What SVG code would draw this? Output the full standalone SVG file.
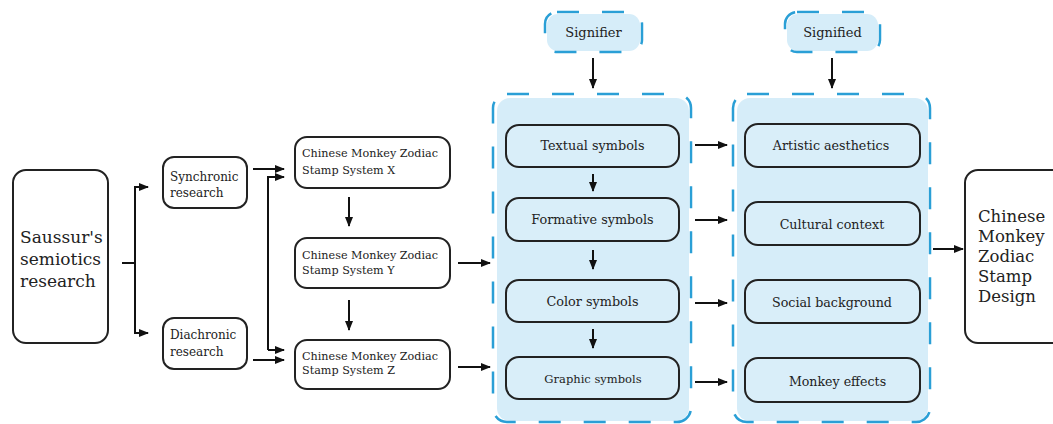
<svg xmlns="http://www.w3.org/2000/svg" width="1053" height="424" viewBox="0 0 1053 424">
<defs>
<marker id="ah" viewBox="0 0 10 10" refX="9" refY="5" markerWidth="10" markerHeight="10" markerUnits="userSpaceOnUse" orient="auto">
<path d="M0,1 L10,5 L0,9 Z" fill="#111"/>
</marker>
<style>
.n{fill:#fff;stroke:#222;stroke-width:2}
.ni{fill:#d9eef9;stroke:#222;stroke-width:2}
.f{fill:#d6edf9;stroke:none}
.c{fill:none;stroke:#2a9fd6;stroke-width:2.5;stroke-dasharray:22 23}
.t{font-family:"DejaVu Serif","Liberation Serif",serif;fill:#222}
.e{fill:none;stroke:#111;stroke-width:2}
.ea{fill:none;stroke:#111;stroke-width:2;marker-end:url(#ah)}
</style>
</defs>
<rect width="1053" height="424" fill="#fff"/>

<g id="saussur">
<rect class="n" x="13" y="170" width="95" height="173" rx="13"/>
<text class="t" font-size="17"><tspan x="20" y="243">Saussur's</tspan><tspan x="20" y="265">semiotics</tspan><tspan x="20" y="287">research</tspan></text>
</g>
<g id="synchronic">
<rect class="n" x="163" y="157" width="84" height="51" rx="11"/>
<text class="t" font-size="12"><tspan x="170" y="181">Synchronic</tspan><tspan x="170" y="197">research</tspan></text>
</g>
<g id="diachronic">
<rect class="n" x="163" y="318" width="84" height="51" rx="11"/>
<text class="t" font-size="12"><tspan x="170" y="339">Diachronic</tspan><tspan x="170" y="356">research</tspan></text>
</g>
<g id="systemX">
<rect class="n" x="295" y="137" width="155" height="51" rx="12"/>
<text class="t" font-size="11.2"><tspan x="302" y="157">Chinese Monkey Zodiac</tspan><tspan x="302" y="174">Stamp System X</tspan></text>
</g>
<g id="systemY">
<rect class="n" x="295" y="238" width="155" height="50" rx="12"/>
<text class="t" font-size="11.2"><tspan x="302" y="259">Chinese Monkey Zodiac</tspan><tspan x="302" y="274">Stamp System Y</tspan></text>
</g>
<g id="systemZ">
<rect class="n" x="295" y="340" width="155" height="49" rx="12"/>
<text class="t" font-size="11.2"><tspan x="302" y="360">Chinese Monkey Zodiac</tspan><tspan x="302" y="374">Stamp System Z</tspan></text>
</g>

<g id="signifier">
<rect class="f" x="547" y="14" width="93" height="37" rx="11"/>
<rect class="c" x="545" y="12" width="97" height="40" rx="12"/>
<text class="t" font-size="13" x="593.5" y="37" text-anchor="middle">Signifier</text>
</g>
<g id="signified">
<rect class="f" x="787" y="14" width="91" height="37" rx="11"/>
<rect class="c" x="785" y="12" width="95" height="40" rx="12"/>
<text class="t" font-size="13" x="832.5" y="37" text-anchor="middle">Signified</text>
</g>

<g id="signifierGroup">
<rect class="f" x="497" y="98" width="192" height="323" rx="13"/>
<rect class="c" x="493" y="94" width="198" height="328" rx="14"/>
</g>
<g id="signifiedGroup">
<rect class="f" x="737" y="98" width="191" height="323" rx="13"/>
<rect class="c" x="733" y="94" width="197" height="328" rx="14"/>
</g>

<g id="textual">
<rect class="ni" x="506" y="125" width="173" height="42" rx="13"/>
<text class="t" font-size="12.8" x="592.5" y="150" text-anchor="middle">Textual symbols</text>
</g>
<g id="formative">
<rect class="ni" x="506" y="198" width="173" height="43" rx="13"/>
<text class="t" font-size="12.8" x="592.5" y="224" text-anchor="middle">Formative symbols</text>
</g>
<g id="color">
<rect class="ni" x="506" y="280" width="173" height="42" rx="13"/>
<text class="t" font-size="12.8" x="592.5" y="306" text-anchor="middle">Color symbols</text>
</g>
<g id="graphic">
<rect class="ni" x="506" y="357" width="173" height="42" rx="13"/>
<text class="t" font-size="11.5" x="593" y="383" text-anchor="middle">Graphic symbols</text>
</g>

<g id="artistic">
<rect class="ni" x="745" y="124" width="175" height="43" rx="13"/>
<text class="t" font-size="12.7" x="831" y="150" text-anchor="middle">Artistic aesthetics</text>
</g>
<g id="cultural">
<rect class="ni" x="745" y="202" width="175" height="43" rx="13"/>
<text class="t" font-size="12.7" x="832" y="229" text-anchor="middle">Cultural context</text>
</g>
<g id="social">
<rect class="ni" x="745" y="280" width="175" height="43" rx="13"/>
<text class="t" font-size="12.7" x="832" y="307" text-anchor="middle">Social background</text>
</g>
<g id="monkey">
<rect class="ni" x="745" y="358" width="175" height="44" rx="13"/>
<text class="t" font-size="12.6" x="837.5" y="386" text-anchor="middle">Monkey effects</text>
</g>

<g id="design">
<rect class="n" x="965" y="170" width="100" height="173" rx="13"/>
<text class="t" font-size="16.5"><tspan x="978" y="222">Chinese</tspan><tspan x="978" y="242">Monkey</tspan><tspan x="978" y="262">Zodiac</tspan><tspan x="978" y="282">Stamp</tspan><tspan x="978" y="302">Design</tspan></text>
</g>

<g id="connectors">
<path class="e" d="M122,263 H135"/>
<path class="ea" d="M135,263 V187 H148"/>
<path class="ea" d="M135,263 V333 H148"/>
<path class="ea" d="M253,169 H284"/>
<path class="ea" d="M253,360 H284"/>
<path class="ea" d="M268,350 V177 H284"/>
<path class="ea" d="M268,350 H284"/>
<path class="ea" d="M349,197 V226"/>
<path class="ea" d="M349,300 V330"/>
<path class="ea" d="M458,263 H490"/>
<path class="ea" d="M458,367 H490"/>
<path class="ea" d="M593,58 V88"/>
<path class="ea" d="M832,58 V88"/>
<path class="ea" d="M593,174 V191"/>
<path class="ea" d="M593,250 V269"/>
<path class="ea" d="M593,329 V348"/>
<path class="ea" d="M695,145 H727"/>
<path class="ea" d="M695,220 H727"/>
<path class="ea" d="M695,303 H727"/>
<path class="ea" d="M695,382 H727"/>
<path class="ea" d="M933,249 H963"/>
</g>
</svg>
